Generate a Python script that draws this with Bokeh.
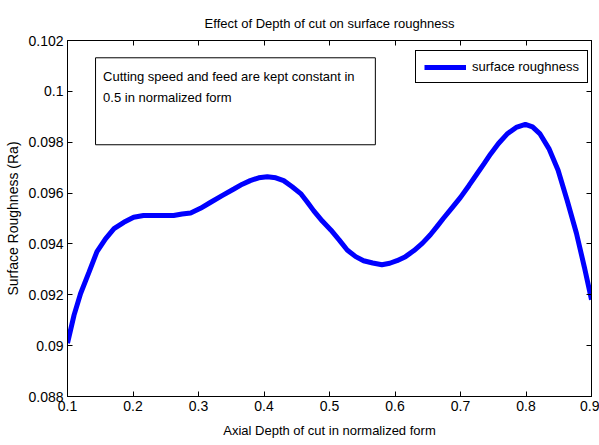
from bokeh.plotting import figure
from bokeh.models import (LinearAxis, Range1d, FixedTicker, BoxAnnotation, Label,
                          Legend, LegendItem)
from bokeh.embed import file_html
from bokeh.resources import INLINE

# ---- data ----
depth = [0.100, 0.110, 0.120, 0.133, 0.145, 0.158, 0.171, 0.186, 0.201, 0.216,
         0.232, 0.247, 0.262, 0.275, 0.288, 0.303, 0.318, 0.336, 0.354, 0.367,
         0.379, 0.392, 0.405, 0.418, 0.430, 0.443, 0.456, 0.466, 0.476, 0.489,
         0.502, 0.515, 0.527, 0.540, 0.552, 0.566, 0.580, 0.592, 0.603, 0.616,
         0.629, 0.642, 0.654, 0.664, 0.674, 0.687, 0.700, 0.713, 0.725, 0.736,
         0.746, 0.758, 0.771, 0.785, 0.799, 0.810, 0.821, 0.835, 0.849, 0.863,
         0.877, 0.889, 0.900]
roughness = [0.0901, 0.0912, 0.09205, 0.0929, 0.0937, 0.09420, 0.0946, 0.09485, 0.09505, 0.09512,
             0.09512, 0.09512, 0.09512, 0.09518, 0.09522, 0.09540, 0.09563, 0.09590, 0.09616, 0.09635,
             0.09649, 0.09660, 0.09664, 0.09660, 0.09649, 0.09625, 0.09598, 0.09565, 0.09530, 0.09490,
             0.09455, 0.09415, 0.09376, 0.09350, 0.09334, 0.09325, 0.09318, 0.09324, 0.09334, 0.09350,
             0.09374, 0.09403, 0.09436, 0.09468, 0.09501, 0.09542, 0.09583, 0.09630, 0.09675, 0.09716,
             0.09754, 0.09795, 0.09832, 0.09858, 0.09870, 0.09860, 0.09834, 0.09775, 0.09690, 0.09570,
             0.09442, 0.09310, 0.09181]

x_ticks = [0.1, 0.2, 0.3, 0.4, 0.5, 0.6, 0.7, 0.8, 0.9]
x_tick_labels = ["0.1", "0.2", "0.3", "0.4", "0.5", "0.6", "0.7", "0.8", "0.9"]
y_ticks = [0.088, 0.090, 0.092, 0.094, 0.096, 0.098, 0.100, 0.102]
y_tick_labels = ["0.088", "0.09", "0.092", "0.094", "0.096", "0.098", "0.1", "0.102"]

title_text = "Effect of Depth of cut on surface roughness"
x_label = "Axial Depth of cut in normalized form"
y_label = "Surface Roughness (Ra)"
note_lines = ["Cutting speed and feed are kept constant in", "0.5 in normalized form"]
series_name = "surface roughness"

# note box extent in data units
note_box = dict(left=0.1428, right=0.570, bottom=0.0979, top=0.10132)

FONT = "Liberation Sans"

p = figure(width=599, height=445, output_backend="svg", toolbar_location=None,
           x_range=Range1d(0.1, 0.9), y_range=Range1d(0.088, 0.102),
           min_border_left=67, min_border_right=8, min_border_top=40, min_border_bottom=49,
           x_axis_location=None, y_axis_location=None)
p.title.text = title_text
p.title.align = "center"
p.title.text_font = FONT
p.title.text_font_size = "13px"
p.title.text_font_style = "normal"
p.title.text_color = "black"
p.title.offset = 0
p.title.standoff = 19

p.grid.visible = False
p.outline_line_color = "black"
p.outline_line_width = 1
p.background_fill_color = "white"
p.border_fill_color = "white"

def style_axis(ax, ticks, show_labels):
    ax.ticker = FixedTicker(ticks=ticks)
    ax.major_tick_in = 5
    ax.major_tick_out = 0
    ax.minor_tick_line_color = None
    ax.axis_line_color = "black"
    ax.major_tick_line_color = "black"
    ax.major_label_text_font = FONT
    ax.major_label_text_font_size = "14px"
    ax.major_label_text_color = "black"
    ax.axis_label_text_font = FONT
    ax.axis_label_text_font_size = "13px"
    ax.axis_label_text_font_style = "normal"
    ax.axis_label_text_color = "black"
    if not show_labels:
        ax.major_label_text_font_size = "0px"
        ax.major_label_text_color = None

xb = LinearAxis()
style_axis(xb, x_ticks, True)
xb.major_label_overrides = {t: l for t, l in zip(x_ticks, x_tick_labels)}
xb.major_label_standoff = 4
xb.axis_label = x_label
xb.axis_label_standoff = 9
p.add_layout(xb, "below")

xt = LinearAxis()
style_axis(xt, x_ticks, False)
p.add_layout(xt, "above")

yl = LinearAxis()
style_axis(yl, y_ticks, True)
yl.major_label_overrides = {t: l for t, l in zip(y_ticks, y_tick_labels)}
yl.major_label_standoff = 4
yl.axis_label = y_label
yl.axis_label_text_font_size = "14px"
yl.axis_label_standoff = 4
p.add_layout(yl, "left")

yr = LinearAxis()
style_axis(yr, y_ticks, False)
p.add_layout(yr, "right")

r = p.line(depth, roughness, line_color="#0000ff", line_width=5)

box = BoxAnnotation(left=note_box["left"], right=note_box["right"],
                    bottom=note_box["bottom"], top=note_box["top"],
                    fill_color="white", fill_alpha=1.0,
                    line_color="black", line_alpha=1.0, line_width=1)
p.add_layout(box)
line_step = 0.00082
for i, t in enumerate(note_lines):
    p.add_layout(Label(x=note_box["left"] + 0.0115, y=note_box["top"] - 0.00045 - i * line_step,
                       text=t, text_font=FONT, text_font_size="13px",
                       text_baseline="top", text_color="black"))

legend = Legend(items=[LegendItem(label=series_name, renderers=[r])],
                location=(348, 313), orientation="vertical")
legend.label_text_font = FONT
legend.label_text_font_size = "13px"
legend.label_text_color = "black"
legend.glyph_width = 42
legend.glyph_height = 14
legend.label_standoff = 6
legend.padding = 8
legend.margin = 0
legend.border_line_color = "black"
legend.border_line_alpha = 1.0
legend.border_line_width = 1
legend.background_fill_alpha = 1.0
p.add_layout(legend, "center")

open("out.html", "w").write(file_html(p, INLINE))
